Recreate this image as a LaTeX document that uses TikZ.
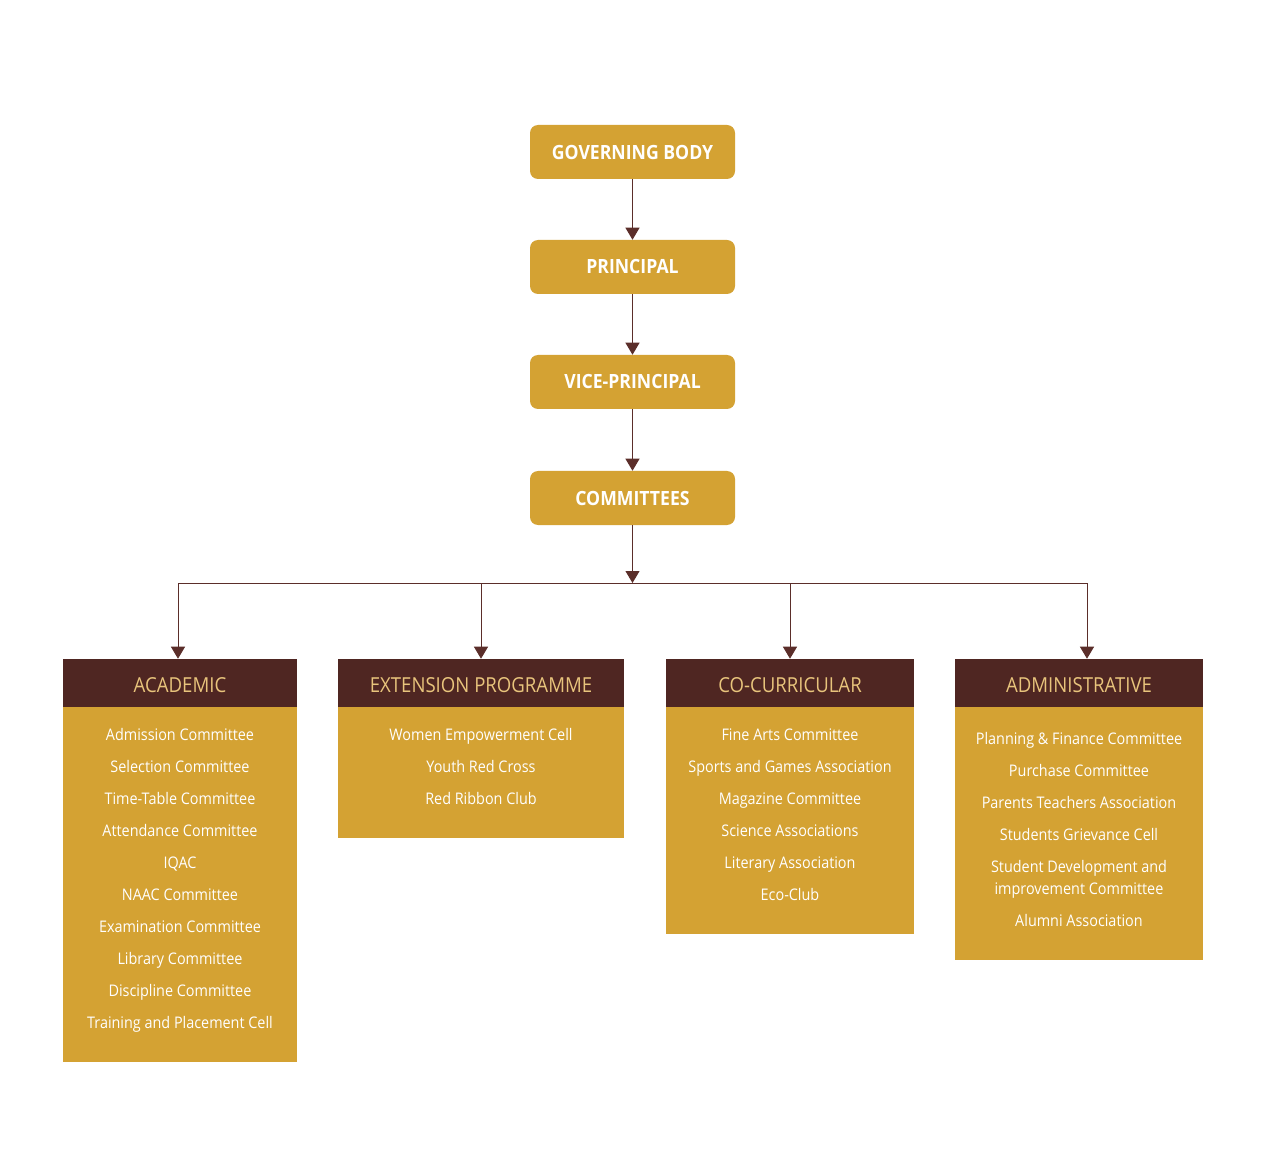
\documentclass[tikz,border=0pt]{standalone}
\usepackage{fontspec}
\setmainfont{Open Sans}[FakeStretch=0.9]
\usetikzlibrary{arrows.meta}
\definecolor{gold}{HTML}{D4A233}
\definecolor{maroon}{HTML}{4F2622}
\definecolor{paleGold}{HTML}{E8C47C}
\definecolor{lineBrown}{HTML}{5B2E2A}
\tikzset{
  topbox/.style={fill=gold, rounded corners=6pt, minimum width=153.75pt, minimum height=40.5pt, inner sep=0pt, text=white, font=\bfseries\fontsize{14.7}{16}\selectfont},
  headbox/.style={fill=maroon, minimum height=36pt, inner sep=0pt, text height=15pt, text depth=0.2pt, text=paleGold, font=\fontsize{15.5}{17}\selectfont},
  bodybox/.style={fill=gold, inner sep=0pt},
  item/.style={text=white, inner sep=0pt, anchor=base, align=center, font=\fontsize{12}{16.5}\selectfont},
  link/.style={draw=lineBrown, line width=0.75pt, -{Triangle[width=10.5pt,length=9pt]}},
  bus/.style={draw=lineBrown, line width=0.75pt}
}
\begin{document}
\begin{tikzpicture}[x=0.75pt,y=0.75pt,yscale=-1,xscale=1]
\useasboundingbox[fill=white] (0,0) rectangle (1265,1166);

%Shape: Top chain
\node[topbox] (gov) at (632.5,152) {GOVERNING BODY};
\node[topbox] (pri) at (632.5,267) {PRINCIPAL};
\node[topbox] (vice) at (632.5,382) {VICE-PRINCIPAL};
\node[topbox] (com) at (632.5,498) {COMMITTEES};

%Straight Lines
\draw[link] (gov) -- (pri);
\draw[link] (pri) -- (vice);
\draw[link] (vice) -- (com);

%Bus line
\coordinate (busMid) at (632.5,583);
\coordinate (busA) at (178,583);
\coordinate (busE) at (481,583);
\coordinate (busC) at (790,583);
\coordinate (busD) at (1087,583);
\draw[link] (com) -- (busMid);
\draw[bus] (busA) -- (busD);

%Shape: Rectangle - ACADEMIC
\node[headbox, minimum width=175.5pt] (acadHead) at (180,683) {ACADEMIC};
\node[bodybox, minimum width=175.5pt, minimum height=266.25pt] (acadBody) at (180,884.5) {};
%Shape: Rectangle - EXTENSION PROGRAMME
\node[headbox, minimum width=214.5pt] (extHead) at (481,683) {EXTENSION PROGRAMME};
\node[bodybox, minimum width=214.5pt, minimum height=98.25pt] (extBody) at (481,772.5) {};
%Shape: Rectangle - CO-CURRICULAR
\node[headbox, minimum width=186pt] (cocHead) at (790,683) {CO-CURRICULAR};
\node[bodybox, minimum width=186pt, minimum height=170.25pt] (cocBody) at (790,820.5) {};
%Shape: Rectangle - ADMINISTRATIVE
\node[headbox, minimum width=186pt] (admHead) at (1079,683) {ADMINISTRATIVE};
\node[bodybox, minimum width=186pt, minimum height=189.75pt] (admBody) at (1079,833.5) {};

%Straight Lines
\draw[link] (busA) -- (busA |- acadHead.north);
\draw[link] (busE) -- (busE |- extHead.north);
\draw[link] (busC) -- (busC |- cocHead.north);
\draw[link] (busD) -- (busD |- admHead.north);

% Text Node - academic
\node[item] (acad1) at (180,740) {Admission Committee};
\node[item] (acad2) at (180,772) {Selection Committee};
\node[item] (acad3) at (180,804) {Time-Table Committee};
\node[item] (acad4) at (180,836) {Attendance Committee};
\node[item] (acad5) at (180,868) {IQAC};
\node[item] (acad6) at (180,900) {NAAC Committee};
\node[item] (acad7) at (180,932) {Examination Committee};
\node[item] (acad8) at (180,964) {Library Committee};
\node[item] (acad9) at (180,996) {Discipline Committee};
\node[item] (acad10) at (180,1028) {Training and Placement Cell};

% Text Node - extension
\node[item] (ext1) at (481,740) {Women Empowerment Cell};
\node[item] (ext2) at (481,772) {Youth Red Cross};
\node[item] (ext3) at (481,804) {Red Ribbon Club};

% Text Node - co-curricular
\node[item] (coc1) at (790,740) {Fine Arts Committee};
\node[item] (coc2) at (790,772) {Sports and Games Association};
\node[item] (coc3) at (790,804) {Magazine Committee};
\node[item] (coc4) at (790,836) {Science Associations};
\node[item] (coc5) at (790,868) {Literary Association};
\node[item] (coc6) at (790,900) {Eco-Club};

% Text Node - administrative
\node[item] (adm1) at (1079,744) {Planning \& Finance Committee};
\node[item] (adm2) at (1079,776) {Purchase Committee};
\node[item] (adm3) at (1079,808) {Parents Teachers Association};
\node[item] (adm4) at (1079,840) {Students Grievance Cell};
\node[item, anchor=center] (adm5) at (1079,879) {Student Development and\\improvement Committee};
\node[item] (adm6) at (1079,926) {Alumni Association};

\end{tikzpicture}
\end{document}
